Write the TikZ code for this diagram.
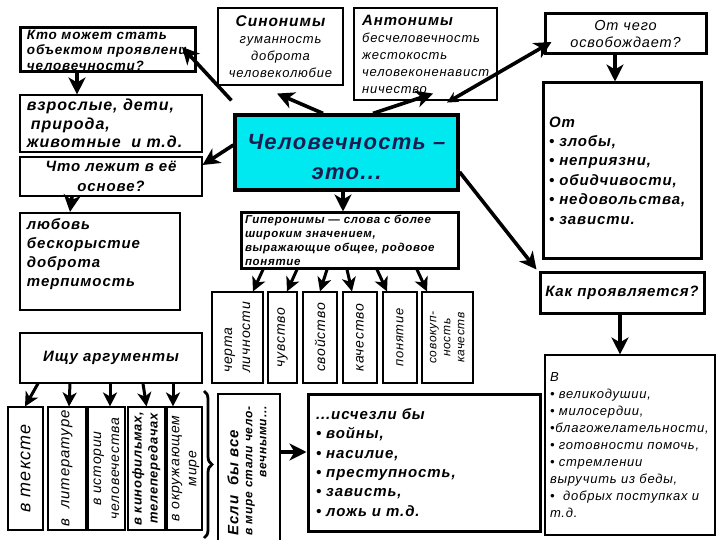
\documentclass[tikz,border=0pt]{standalone}
\usepackage{fontspec}
\setmainfont{Liberation Sans}[LetterSpace=6]
\usetikzlibrary{arrows.meta,decorations.pathreplacing}
\definecolor{cyanfill}{RGB}{0,232,240}
\definecolor{navytext}{RGB}{28,28,80}
\newcommand\fz[2]{\fontsize{#1}{#2}\selectfont}
\newcommand\vtext[2]{\rotatebox{90}{\begin{tabular}{@{}#1@{}}#2\end{tabular}}}
\begin{document}
\begin{tikzpicture}[x=1pt,y=-1pt,
  bthin/.style={draw,line width=1.1pt,inner sep=0pt},
  bthick/.style={draw,line width=3pt,inner sep=0pt},
  arr/.style={line width=3.6pt,-{Stealth[length=17pt,width=17pt,inset=5pt]}},
  harr/.style={line width=3pt,-{Stealth[length=14pt,width=14pt,inset=4pt]}},
  vh/.style={bthin,minimum height=91pt,font=\fz{14}{18}\itshape},
  vb/.style={bthin,minimum height=123pt},
]
\fill[white] (0,0) rectangle (720,540);
\useasboundingbox (0,0) rectangle (720,540);

% left column
\node[bthick,minimum width=175pt,minimum height=44pt,text width=161pt,align=left,font=\fz{13.5}{15.5}\bfseries\itshape] (q1) at (107.5,50) {Кто может стать\\объектом проявлени\\человечности?};
\node[bthin,minimum width=182pt,minimum height=57pt,text width=168pt,align=left,font=\fz{16}{18.5}\bfseries\itshape] (q2) at (111,123.5) {взрослые, дети,\\\hspace*{4pt}природа,\\животные\ \ и т.д.};
\node[bthin,minimum width=182pt,minimum height=39pt,align=center,font=\fz{15}{19.5}\bfseries\itshape] (q3) at (111,176.5) {Что лежит в её\\основе?};
\node[draw,line width=2.2pt,inner sep=0pt,minimum width=160pt,minimum height=97pt,text width=146pt,align=left,font=\fz{15}{19}\bfseries\itshape] (q4) at (100,261.5) {любовь\\бескорыстие\\доброта\\терпимость\\~};
\node[bthin,minimum width=182pt,minimum height=50pt,font=\fz{15}{18}\bfseries\itshape] (q5) at (111,358) {Ищу аргументы};

% bottom-left vertical boxes
\node[vb,minimum width=35pt,font=\fz{18}{20}\itshape] (b1) at (25.5,468.5) {\rotatebox{90}{в тексте}};
\node[vb,minimum width=38pt,font=\fz{15}{18}\itshape] (b2) at (67,468.5) {\rotatebox{90}{в\ \ литературе}};
\node[vb,minimum width=37pt,font=\fz{14}{18}\itshape] (b3) at (106.5,468.5) {\vtext{c}{в истории\\человечества}};
\node[vb,minimum width=37pt,font=\fz{13}{16}\bfseries\itshape] (b4) at (146.5,468.5) {\vtext{c}{в кинофильмах,\\телепередачах}};
\node[vb,minimum width=35pt,font=\fz{14}{17}\itshape] (b5) at (184.5,468.5) {\vtext{c}{в окружающем\\мире}};
\draw[line width=2.8pt,decorate,decoration={brace,amplitude=8pt}] (204,391) -- (204,538);

\node[bthin,minimum width=62pt,minimum height=154pt,font=\fz{12}{14}\bfseries\itshape] (esli) at (249,471) {\rotatebox{90}{\begin{tabular}{@{}l@{}}{\fz{15}{16}Если\ \ бы все}\\в мире стали чело-\\\hfill вечными...\end{tabular}}};

% top middle
\node[bthin,minimum width=125pt,minimum height=77pt,align=center,font=\fz{13}{17}\itshape] (syn) at (280.5,46.5) {{\bfseries\fz{15.5}{17}Синонимы}\\гуманность\\доброта\\человеколюбие};
\node[bthin,minimum width=143pt,minimum height=92pt] (ant) at (425.5,54) {};
\node[anchor=north west,inner sep=0pt,align=left,font=\fz{13}{17}\itshape] (antt) at (362,15) {{\bfseries\fz{15}{17}Антонимы}\\бесчеловечность\\жестокость\\человеконенавист\\ничество};

\node[draw,line width=3.2pt,inner sep=0pt,fill=cyanfill,minimum width=223pt,minimum height=75pt] (cen) at (346.5,152.5) {};
\node[inner sep=0pt,align=center,text=navytext,font=\fz{22}{30}\bfseries\itshape] (cent) at (346.5,157) {Человечность –\\это...};

\node[bthick,minimum width=217pt,minimum height=55pt,text width=209pt,align=left,font=\fz{11.5}{14}\bfseries\itshape] (hyp) at (349.5,240.5) {Гиперонимы — слова с более\\широким значением,\\выражающие общее, родовое\\понятие};

\node[vh,minimum width=51pt] (h1) at (237.5,337.5) {\vtext{l}{черта\\личности}};
\node[vh,minimum width=29pt] (h2) at (282.5,337.5) {\rotatebox{90}{чувство}};
\node[vh,minimum width=34pt] (h3) at (320,337.5) {\rotatebox{90}{свойство}};
\node[vh,minimum width=34pt] (h4) at (360,337.5) {\rotatebox{90}{качество}};
\node[vh,minimum width=34pt,font=\fz{13}{16}\itshape] (h5) at (400,337.5) {\rotatebox{90}{понятие}};
\node[vh,minimum width=51pt,font=\fz{12}{14}\itshape] (h6) at (447.5,337.5) {\vtext{c}{совокуп-\\ность\\качеств}};

\node[bthick,minimum width=232pt,minimum height=137pt,text width=216pt,align=left,font=\fz{15}{19.3}\bfseries\itshape] (isch) at (424,462.5) {...исчезли бы\\• войны,\\• насилие,\\• преступность,\\• зависть,\\• ложь и т.д.};

% right column
\node[bthick,minimum width=161pt,minimum height=40pt,align=center,font=\fz{14.5}{17}\itshape] (och) at (625.5,34) {От чего\\освобождает?};
\node[bthick,minimum width=158pt,minimum height=175pt,text width=146pt,align=left,font=\fz{15}{19.4}\bfseries\itshape] (ot) at (622,170.5) {От\\• злобы,\\• неприязни,\\• обидчивости,\\• недовольства,\\• зависти.};
\node[bthick,minimum width=164pt,minimum height=41pt,font=\fz{15}{17}\bfseries\itshape] (kak) at (622,292.5) {Как проявляется?};
\node[bthin,minimum width=170pt,minimum height=180pt,text width=160pt,align=left,font=\fz{13}{17}\itshape] (vbx) at (630,445) {В\\• великодушии,\\• милосердии,\\•благожелательности,\\• готовности помочь,\\• стремлении\\выручить из беды,\\•\ \ добрых поступках и\\т.д.};

% connectors
\draw[arr] ([xshift=-30.5pt]q1.south) -- ([xshift=-34pt]q2.north);
\draw[arr] ([xshift=-39pt]q3.south) -- ([xshift=-30pt]q4.north);
\draw[arr] ([yshift=7.5pt]cen.west) -- ([yshift=11.5pt]q3.east);
\draw[arr] ([shift={(-2pt,13pt)}]cen.north west) -- ([shift={(74.5pt,3pt)}]q1.center);
\draw[arr] ([xshift=-23.5pt]cen.north) -- ([shift={(-3.5pt,-8pt)}]syn.south);
\draw[arr] ([xshift=26.5pt]cen.north) -- ([shift={(7.5pt,7pt)}]ant.south);
\draw[line width=3.6pt,{Stealth[length=11pt,width=11pt]}-{Stealth[length=17pt,width=17pt,inset=5pt]}] ([shift={(21.5pt,-2pt)}]ant.south) -- ([shift={(8pt,-8pt)}]och.west);
\draw[arr] ([xshift=-3.5pt]cen.south) -- ([xshift=-6.5pt]hyp.north);
\draw[arr] ([yshift=-19.5pt]cen.east) -- ([shift={(-2pt,1pt)}]kak.north west);
\draw[arr] ([xshift=-10.5pt]och.south) -- ([xshift=-7pt]ot.north);
\draw[arr] ([xshift=-2pt]kak.south) -- ([xshift=-10pt]vbx.north);

\draw[harr] ([xshift=-86.5pt]hyp.south) -- ([xshift=15.5pt]h1.north);
\draw[harr] ([xshift=-52.5pt]hyp.south) -- ([xshift=4.5pt]h2.north);
\draw[harr] ([xshift=-22.5pt]hyp.south) -- (h3.north);
\draw[harr] ([xshift=-2.5pt]hyp.south) -- ([xshift=-8pt]h4.north);
\draw[harr] ([xshift=27.5pt]hyp.south) -- ([xshift=-13pt]h5.north);
\draw[harr] ([xshift=67.5pt]hyp.south) -- ([xshift=-20.5pt]h6.north);

\draw[harr] ([xshift=-73pt]q5.south) -- ([xshift=-0.5pt]b1.north);
\draw[harr] ([xshift=-41pt]q5.south) -- ([xshift=2pt]b2.north);
\draw[harr] ([xshift=-1pt]q5.south) -- ([xshift=3.5pt]b3.north);
\draw[harr] ([xshift=32pt]q5.south) -- (b4.north);
\draw[harr] ([xshift=62pt]q5.south) -- ([xshift=-11.5pt]b5.north);

\draw[arr] ([yshift=19pt]esli.east) -- ([yshift=10.5pt]isch.west);
\end{tikzpicture}
\end{document}
